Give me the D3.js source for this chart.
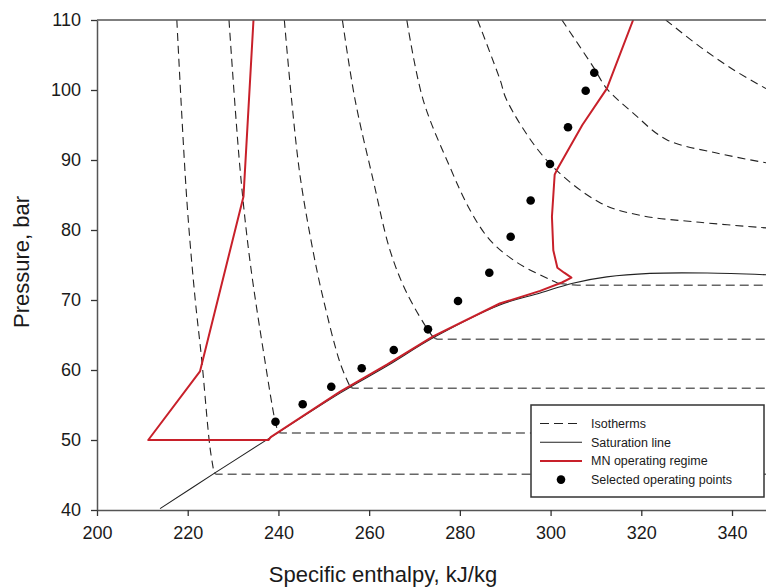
<!DOCTYPE html>
<html>
<head>
<meta charset="utf-8">
<script src="https://cdnjs.cloudflare.com/ajax/libs/d3/7.8.5/d3.min.js"></script>
<style>
  body { margin: 0; background: #fff; }
  svg { display: block; font-family: "Liberation Sans", Arial, sans-serif; }
</style>
</head>
<body>
<div id="chart"></div>
<script>
// axis ticks
var xTicks = [200, 220, 240, 260, 280, 300, 320, 340];
var yTicks = [40, 50, 60, 70, 80, 90, 100, 110];

// saturation line [h, P]
var satLine = [[213.9, 40.2], [226.0, 45.3], [238.1, 50.3], [253.6, 56.7], [264.0, 60.6], [274.1, 64.6],
    [288.8, 69.3], [297.7, 71.0], [304.9, 72.4], [312.4, 73.3], [321.9, 73.8], [334.5, 73.85], [347.5, 73.6]];

// isotherms, liquid / supercritical part [h, P]
var iso1 = [[217.6, 110], [219.8, 84.3], [221.6, 70.4], [223.1, 61.4], [224.9, 49.0], [225.8, 45.3]];
var iso2 = [[229.1, 110], [231.5, 89.0], [233.7, 75.7], [237.0, 61.4], [239.2, 52.9], [239.9, 51.1]];
var iso3 = [[241.3, 110], [242.9, 98.6], [244.8, 87.6], [247.6, 77.1], [249.8, 70.4], [253.6, 61.0], [255.8, 57.6]];
var iso4 = [[254.1, 110], [256.9, 98.6], [260.9, 87.1], [264.6, 77.1], [268.3, 71.0], [273.4, 65.3], [274.3, 64.6]];
var iso5 = [[268.3, 110], [271.9, 98.6], [277.8, 89.0], [282.2, 82.9], [286.6, 78.6], [292.5, 75.4], [299.9, 72.9], [301.6, 72.4]];
var iso6 = [[283.9, 110], [288.9, 101.4], [290.3, 98.6], [299.1, 90.0], [310.9, 83.9], [319.7, 82.1], [332.9, 81.1], [347.5, 80.3]];
var iso7 = [[302.5, 110], [309.4, 103.3], [312.4, 100.2], [318.2, 96.7], [325.6, 92.9], [336.6, 91.0], [347.5, 89.6]];
var iso8 = [[325.4, 110], [332.9, 106.2], [340.3, 102.9], [347.5, 100.2]];

// two-phase plateaus [h start, P]
var plateauH = [226.3, 240.6, 256.4, 275.0, 306.0];
var plateauP = [45.1, 51.0, 57.4, 64.4, 72.1];

// MN operating regime [h, P]
var regime = [[234.5, 110], [232.3, 84.8], [222.7, 59.8], [211.3, 50.0], [237.8, 50.0], [238.3, 50.4],
    [253.6, 56.9], [264.0, 60.8], [274.1, 64.8], [288.8, 69.5], [297.7, 71.3], [302.5, 72.5],
    [304.6, 73.2], [303.0, 73.9], [301.5, 74.6], [300.6, 77.1], [300.3, 81.9], [300.9, 87.9],
    [301.4, 88.6], [307.0, 95.0], [312.4, 100.2], [318.2, 110]];

// selected operating points
var ptH = [239.35, 245.35, 251.65, 258.36, 265.43, 272.97, 279.59, 286.49, 291.2, 295.61, 299.87, 303.84, 307.74, 309.63];
var ptP = [52.61, 55.11, 57.61, 60.24, 62.86, 65.81, 69.86, 73.9, 79.04, 84.21, 89.43, 94.67, 99.9, 102.47];

var legendItems = ["Isotherms", "Saturation line", "MN operating regime", "Selected operating points"];

var W = 766, H = 587;
var svg = d3.select("#chart").append("svg").attr("width", W).attr("height", H);

var x = d3.scaleLinear().domain([200, 348]).range([97, 768.3]);
var y = d3.scaleLinear().domain([40, 110]).range([510, 20]);

svg.append("defs").append("clipPath").attr("id", "plotClip")
    .append("rect").attr("x", 97).attr("y", 20).attr("width", W - 97).attr("height", 490);

var plot = svg.append("g").attr("clip-path", "url(#plotClip)");

var smooth = d3.line().x(d => x(d[0])).y(d => y(d[1])).curve(d3.curveCatmullRom.alpha(0.5));
var straight = d3.line().x(d => x(d[0])).y(d => y(d[1]));

// isotherms
[iso1, iso2, iso3, iso4, iso5, iso6, iso7, iso8].forEach(function (iso) {
    plot.append("path").attr("d", smooth(iso))
        .attr("fill", "none").attr("stroke", "#222").attr("stroke-width", 1.1)
        .attr("stroke-dasharray", "8,5");
});
// short joins along saturation + plateaus
[iso1, iso2, iso3, iso4, iso5].forEach(function (iso, i) {
    var last = iso[iso.length - 1];
    plot.append("path").attr("d", straight([last, [plateauH[i], plateauP[i]], [348, plateauP[i]]]))
        .attr("fill", "none").attr("stroke", "#666").attr("stroke-width", 1.5)
        .attr("stroke-dasharray", "9,5");
});

// saturation line
plot.append("path").attr("d", smooth(satLine))
    .attr("fill", "none").attr("stroke", "#222").attr("stroke-width", 1.1);

// operating regime
plot.append("path").attr("d", straight(regime))
    .attr("fill", "none").attr("stroke", "#c8202a").attr("stroke-width", 2)
    .attr("stroke-linejoin", "round");

// points
plot.selectAll("circle.pt").data(ptH).enter().append("circle")
    .attr("class", "pt")
    .attr("cx", d => x(d))
    .attr("cy", (d, i) => y(ptP[i]))
    .attr("r", 4.3)
    .attr("fill", "#000");

// top frame line
svg.append("line").attr("x1", 97).attr("x2", W).attr("y1", y(110)).attr("y2", y(110))
    .attr("stroke", "#555").attr("stroke-width", 1.5);

// axes
var xAxis = svg.append("g").attr("transform", "translate(0," + y(40) + ")")
    .call(d3.axisBottom(x).tickValues(xTicks).tickSize(6).tickSizeOuter(0).tickPadding(10));
var yAxis = svg.append("g").attr("transform", "translate(" + x(200) + ",0)")
    .call(d3.axisLeft(y).tickValues(yTicks).tickSize(6).tickSizeOuter(0).tickPadding(10));

[xAxis, yAxis].forEach(function (a) {
    a.select(".domain").attr("stroke", "#555").attr("stroke-width", 1.5);
    a.selectAll(".tick line").attr("stroke", "#333").attr("stroke-width", 1.3);
    a.selectAll(".tick text").attr("fill", "#1a1a1a")
        .style("font-size", "18px").style("font-family", "'Liberation Sans', Arial, sans-serif");
});

svg.append("text")
    .attr("x", 383).attr("y", 582)
    .attr("text-anchor", "middle")
    .style("font-size", "22px").attr("fill", "#1a1a1a")
    .text("Specific enthalpy, kJ/kg");

svg.append("text")
    .attr("transform", "translate(29," + 262 + ") rotate(-90)")
    .attr("text-anchor", "middle")
    .style("font-size", "22px").attr("fill", "#1a1a1a")
    .text("Pressure, bar");

// legend
var legend = svg.append("g").attr("transform", "translate(531,405)");
legend.append("rect").attr("width", 233).attr("height", 92)
    .attr("fill", "#fff").attr("stroke", "#333").attr("stroke-width", 1.5);

legend.selectAll("text.lab").data(legendItems).enter().append("text")
    .attr("class", "lab")
    .attr("x", 60)
    .attr("y", (d, i) => 18.5 + i * 18.7)
    .attr("dy", "0.35em")
    .style("font-size", "12.5px").attr("fill", "#1a1a1a")
    .text(d => d);

legend.append("line").attr("x1", 9).attr("x2", 51).attr("y1", 18.5).attr("y2", 18.5)
    .attr("stroke", "#222").attr("stroke-width", 1.2).attr("stroke-dasharray", "9,5");
legend.append("line").attr("x1", 9).attr("x2", 51).attr("y1", 37.2).attr("y2", 37.2)
    .attr("stroke", "#222").attr("stroke-width", 1.1);
legend.append("line").attr("x1", 9).attr("x2", 51).attr("y1", 55.9).attr("y2", 55.9)
    .attr("stroke", "#c8202a").attr("stroke-width", 2);
legend.append("circle").attr("cx", 30).attr("cy", 74.6).attr("r", 4.3).attr("fill", "#000");
</script>
</body>
</html>
